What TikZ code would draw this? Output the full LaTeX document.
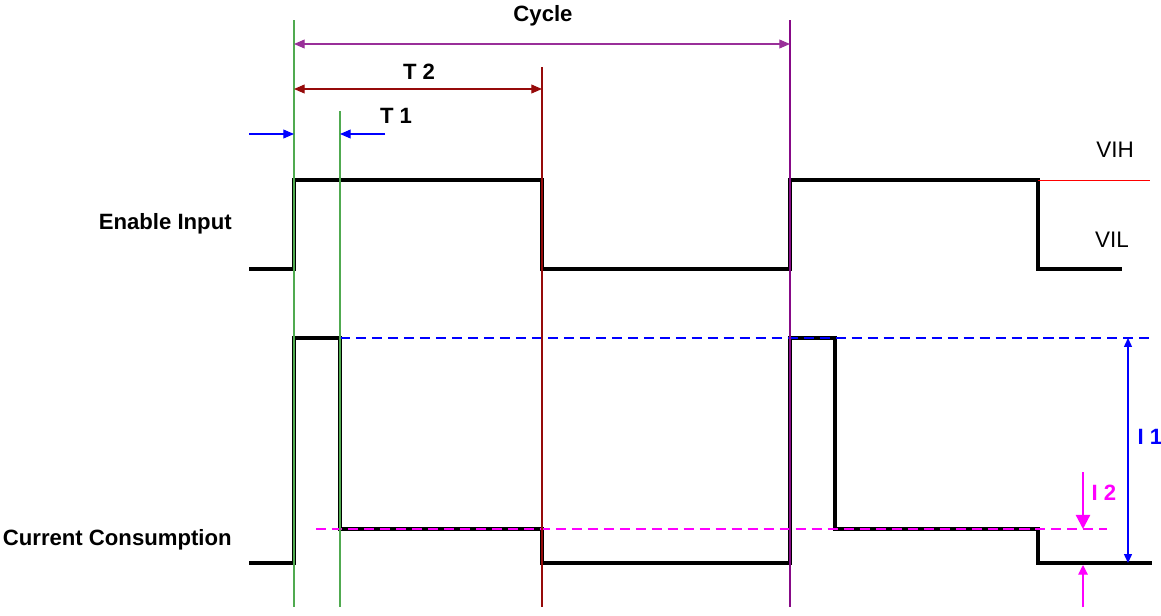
\documentclass[tikz,border=0pt]{standalone}
\usepackage{fontspec}
\setmainfont{Liberation Sans}
\usetikzlibrary{arrows.meta}
\definecolor{dkred}{RGB}{150,10,10}
\definecolor{purp}{RGB}{135,10,135}
\definecolor{grn}{RGB}{80,170,80}
\definecolor{mag}{RGB}{255,0,255}
\tikzset{
  wave/.style={line width=1.9pt,line join=miter},
  mark line/.style={line width=0.6pt},
  lvl dash/.style={line width=1pt,dash pattern=on 5.7pt off 3.4pt},
  dim/.style={line width=0.6pt,{Triangle[length=6pt,width=5pt]}-{Triangle[length=6pt,width=5pt]}},
  lbl/.style={font=\fontsize{12.6}{14}\selectfont\bfseries,inner sep=0pt},
  lvl/.style={font=\fontsize{12.8}{14}\selectfont,inner sep=0pt}
}
\begin{document}
\begin{tikzpicture}[x=0.02cm,y=-0.02cm]
\useasboundingbox (0,0) rectangle (1161,616);

% signal names and levels
\node[lbl,anchor=east] (en) at (232,224) {Enable Input};
\node[lbl,anchor=east] (cc) at (232,540) {Current Consumption};
\node[lvl] (vih) at (1115,150) {VIH};
\node[lvl] (vil) at (1112,240) {VIL};

% waveforms
\draw[wave] (249,269) -- (294,269) -- (294,180) -- (542,180) -- (542,269)
  -- (790,269) -- (790,180) -- (1038,180) -- (1038,269) -- (1122,269);
\draw[red,line width=0.5pt] (1038,180) -- (1150,180);
\draw[wave] (249,563) -- (294,563) -- (294,338) -- (340,338) -- (340,529)
  -- (542,529) -- (542,563) -- (790,563) -- (790,338) -- (835,338)
  -- (835,529) -- (1038,529) -- (1038,563) -- (1152,563);

% current levels
\draw[blue,lvl dash] (340,338) -- (1152,338);
\draw[mag,lvl dash] (316,529) -- (1107,529);

% time marks
\coordinate (g1t) at (294,20);  \coordinate (g1b) at (294,607);
\coordinate (g2t) at (340,111); \coordinate (g2b) at (340,607);
\coordinate (r1t) at (542,67);  \coordinate (r1b) at (542,607);
\coordinate (p1t) at (790,20);  \coordinate (p1b) at (790,607);
\path[draw,mark line,grn] (g1t) -- (g1b);
\path[draw,mark line,grn] (g2t) -- (g2b);
\path[draw,mark line,dkred] (r1t) -- (r1b);
\path[draw,mark line,purp] (p1t) -- (p1b);

% Cycle
\coordinate (cyl) at (294,44);
\coordinate (cyr) at (790,44);
\path[draw,dim,purp!85] (cyl) -- (cyr);
\node[lbl] (cycle) at (543,16) {Cycle};

% T 2
\coordinate (t2l) at (294,89);
\coordinate (t2r) at (542,89);
\path[draw,dim,dkred] (t2l) -- (t2r);
\node[lbl] (t2) at (419,72) {T 2};

% T 1
\coordinate (t1a) at (249,134);
\coordinate (t1b) at (294,134);
\coordinate (t1c) at (385,134);
\coordinate (t1d) at (340,134);
\path[draw,blue,line width=0.6pt,-{Triangle[length=6pt,width=5pt]}] (t1a) -- (t1b);
\path[draw,blue,line width=0.6pt,-{Triangle[length=6pt,width=5pt]}] (t1c) -- (t1d);
\node[lbl] (t1) at (396,116) {T 1};

% I 1
\coordinate (i1t) at (1128,338);
\coordinate (i1b) at (1128,563);
\path[draw,blue,line width=0.6pt,{Triangle[length=5pt,width=4.5pt]}-{Triangle[length=5pt,width=4.5pt]}] (i1t) -- (i1b);
\node[lbl,blue] (i1) at (1150,437) {I 1};

% I 2
\coordinate (i2a) at (1083,472);
\coordinate (i2b) at (1083,529);
\coordinate (i2c) at (1083,607);
\coordinate (i2d) at (1083,565);
\path[draw,mag,line width=1.3pt,-{Triangle[length=8pt,width=8pt]}] (i2a) -- (i2b);
\path[draw,mag,line width=0.6pt,-{Triangle[length=5.5pt,width=5.5pt]}] (i2c) -- (i2d);
\node[lbl,mag] (i2) at (1104,493) {I 2};
\end{tikzpicture}
\end{document}
